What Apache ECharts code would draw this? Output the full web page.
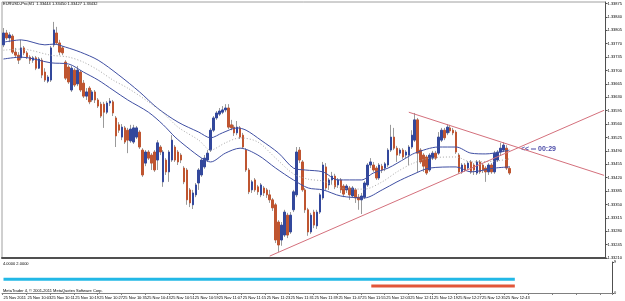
<!DOCTYPE html>
<html><head><meta charset="utf-8">
<script src="https://cdn.jsdelivr.net/npm/echarts@6/dist/echarts.min.js"></script>
<style>html,body{margin:0;padding:0;background:#fff;}#c{width:625px;height:301px;}</style>
</head><body><div id="c"></div>
<script>
const headerText = 'EURUSD-Pro,M1  1.33444 1.33450 1.33427 1.33432';
const copyrightText = 'MetaTrader 4, \u00a9 2001-2011 MetaQuotes Software Corp.';
const subTitle = '4.0000 2.0000';
const timerText = '<< \u2550 00:29';
const tickLabels = ['25 Nov 2011','25 Nov 10:03','25 Nov 10:11','25 Nov 10:19','25 Nov 10:27','25 Nov 10:35','25 Nov 10:43','25 Nov 10:51','25 Nov 10:59','25 Nov 11:07','25 Nov 11:15','25 Nov 11:23','25 Nov 11:31','25 Nov 11:39','25 Nov 11:47','25 Nov 11:55','25 Nov 12:03','25 Nov 12:11','25 Nov 12:19','25 Nov 12:27','25 Nov 12:35','25 Nov 12:43'];
const barsPerLabel = 8;
const totalSlots = 204;

const open = [1.33767,1.33798,1.33785,1.33790,1.33748,1.33740,1.33733,1.33759,1.33746,1.33735,
1.33727,1.33733,1.33706,1.33727,1.33696,1.33672,1.33675,1.33767,1.33798,1.33772,
1.33759,1.33722,1.33709,1.33649,1.33701,1.33665,1.33696,1.33667,1.33633,1.33654,
1.33623,1.33644,1.33623,1.33612,1.33612,1.33591,1.33615,1.33618,1.33576,1.33558,
1.33526,1.33550,1.33544,1.33516,1.33513,1.33526,1.33539,1.33492,1.33458,1.33487,
1.33479,1.33487,1.33466,1.33500,1.33409,1.33466,1.33435,1.33466,1.33500,1.33487,
1.33479,1.33445,1.33440,1.33388,1.33349,1.33375,1.33406,1.33427,1.33448,1.33466,
1.33492,1.33544,1.33576,1.33586,1.33591,1.33597,1.33602,1.33558,1.33552,1.33537,
1.33550,1.33531,1.33492,1.33440,1.33388,1.33414,1.33396,1.33375,1.33393,1.33388,
1.33375,1.33362,1.33349,1.33304,1.33257,1.33270,1.33322,1.33278,1.33336,1.33375,
1.33492,1.33461,1.33388,1.33336,1.33278,1.33330,1.33294,1.33330,1.33367,1.33448,
1.33401,1.33414,1.33424,1.33401,1.33414,1.33398,1.33388,1.33393,1.33372,1.33388,
1.33369,1.33362,1.33369,1.33401,1.33453,1.33453,1.33445,1.33419,1.33450,1.33445,
1.33453,1.33492,1.33526,1.33497,1.33484,1.33492,1.33479,1.33479,1.33500,1.33518,
1.33571,1.33492,1.33479,1.33474,1.33440,1.33471,1.33484,1.33484,1.33518,1.33544,
1.33537,1.33550,1.33544,1.33539,1.33479,1.33435,1.33453,1.33445,1.33461,1.33453,
1.33432,1.33461,1.33453,1.33445,1.33435,1.33453,1.33435,1.33466,1.33487,1.33492,
1.33497,1.33444];
const close = [1.33798,1.33785,1.33793,1.33748,1.33740,1.33727,1.33759,1.33746,1.33735,1.33727,
1.33733,1.33706,1.33730,1.33688,1.33675,1.33683,1.33759,1.33806,1.33772,1.33748,
1.33746,1.33680,1.33670,1.33706,1.33662,1.33701,1.33649,1.33633,1.33644,1.33618,
1.33644,1.33623,1.33607,1.33581,1.33591,1.33615,1.33620,1.33589,1.33529,1.33544,
1.33552,1.33513,1.33518,1.33547,1.33550,1.33550,1.33500,1.33427,1.33487,1.33471,
1.33458,1.33440,1.33511,1.33487,1.33487,1.33435,1.33487,1.33518,1.33466,1.33461,
1.33466,1.33409,1.33362,1.33354,1.33380,1.33401,1.33440,1.33466,1.33471,1.33484,
1.33544,1.33576,1.33589,1.33594,1.33597,1.33602,1.33552,1.33550,1.33537,1.33552,
1.33526,1.33500,1.33440,1.33383,1.33409,1.33388,1.33383,1.33401,1.33380,1.33375,
1.33362,1.33341,1.33257,1.33244,1.33296,1.33330,1.33270,1.33322,1.33383,1.33487,
1.33466,1.33388,1.33336,1.33278,1.33322,1.33296,1.33330,1.33375,1.33453,1.33393,
1.33414,1.33424,1.33396,1.33414,1.33388,1.33377,1.33398,1.33375,1.33393,1.33367,
1.33362,1.33372,1.33406,1.33453,1.33461,1.33440,1.33419,1.33453,1.33440,1.33456,
1.33492,1.33526,1.33497,1.33479,1.33492,1.33474,1.33487,1.33500,1.33531,1.33571,
1.33484,1.33461,1.33450,1.33432,1.33479,1.33484,1.33471,1.33526,1.33544,1.33524,
1.33552,1.33542,1.33537,1.33487,1.33435,1.33453,1.33440,1.33458,1.33435,1.33440,
1.33461,1.33435,1.33440,1.33435,1.33453,1.33435,1.33484,1.33487,1.33497,1.33505,
1.33445,1.33432];
const high = [1.33811,1.33806,1.33800,1.33795,1.33759,1.33748,1.33780,1.33764,1.33751,1.33740,
1.33738,1.33738,1.33735,1.33733,1.33706,1.33688,1.33764,1.33827,1.33814,1.33780,
1.33764,1.33727,1.33714,1.33712,1.33706,1.33712,1.33701,1.33675,1.33654,1.33659,
1.33649,1.33649,1.33628,1.33618,1.33618,1.33620,1.33628,1.33623,1.33581,1.33565,
1.33560,1.33555,1.33550,1.33558,1.33558,1.33555,1.33544,1.33497,1.33492,1.33492,
1.33484,1.33492,1.33518,1.33505,1.33492,1.33471,1.33492,1.33531,1.33505,1.33492,
1.33484,1.33450,1.33445,1.33393,1.33388,1.33406,1.33445,1.33471,1.33479,1.33492,
1.33550,1.33581,1.33594,1.33602,1.33607,1.33612,1.33612,1.33571,1.33558,1.33568,
1.33555,1.33537,1.33497,1.33445,1.33414,1.33419,1.33401,1.33406,1.33398,1.33393,
1.33388,1.33367,1.33354,1.33309,1.33304,1.33336,1.33328,1.33330,1.33388,1.33500,
1.33500,1.33466,1.33393,1.33341,1.33328,1.33336,1.33336,1.33380,1.33461,1.33458,
1.33419,1.33435,1.33430,1.33419,1.33419,1.33403,1.33403,1.33398,1.33398,1.33393,
1.33377,1.33380,1.33411,1.33458,1.33471,1.33461,1.33450,1.33458,1.33456,1.33461,
1.33497,1.33558,1.33550,1.33503,1.33497,1.33497,1.33492,1.33505,1.33544,1.33589,
1.33576,1.33497,1.33484,1.33479,1.33484,1.33490,1.33490,1.33539,1.33550,1.33550,
1.33560,1.33558,1.33550,1.33544,1.33484,1.33458,1.33458,1.33463,1.33466,1.33458,
1.33466,1.33466,1.33458,1.33450,1.33458,1.33458,1.33490,1.33492,1.33511,1.33513,
1.33505,1.33450];
const low = [1.33761,1.33780,1.33774,1.33743,1.33733,1.33717,1.33727,1.33740,1.33730,1.33717,
1.33720,1.33701,1.33704,1.33680,1.33670,1.33667,1.33670,1.33761,1.33767,1.33740,
1.33740,1.33675,1.33665,1.33644,1.33657,1.33659,1.33644,1.33628,1.33623,1.33612,
1.33618,1.33615,1.33602,1.33576,1.33550,1.33586,1.33607,1.33581,1.33500,1.33537,
1.33518,1.33508,1.33484,1.33511,1.33508,1.33521,1.33495,1.33422,1.33450,1.33466,
1.33440,1.33435,1.33440,1.33479,1.33396,1.33427,1.33409,1.33461,1.33461,1.33453,
1.33458,1.33403,1.33349,1.33343,1.33338,1.33369,1.33388,1.33422,1.33443,1.33461,
1.33487,1.33539,1.33571,1.33581,1.33586,1.33591,1.33547,1.33544,1.33529,1.33531,
1.33521,1.33495,1.33435,1.33377,1.33380,1.33383,1.33375,1.33369,1.33372,1.33367,
1.33354,1.33333,1.33249,1.33226,1.33242,1.33265,1.33262,1.33273,1.33330,1.33369,
1.33458,1.33383,1.33328,1.33268,1.33273,1.33288,1.33286,1.33325,1.33362,1.33388,
1.33388,1.33403,1.33390,1.33393,1.33380,1.33369,1.33380,1.33362,1.33367,1.33354,
1.33336,1.33325,1.33364,1.33396,1.33445,1.33435,1.33414,1.33414,1.33432,1.33437,
1.33448,1.33487,1.33492,1.33461,1.33477,1.33469,1.33471,1.33453,1.33495,1.33513,
1.33435,1.33456,1.33435,1.33427,1.33435,1.33466,1.33466,1.33479,1.33513,1.33518,
1.33531,1.33537,1.33531,1.33482,1.33430,1.33430,1.33435,1.33440,1.33430,1.33427,
1.33427,1.33430,1.33432,1.33409,1.33427,1.33430,1.33430,1.33461,1.33479,1.33487,
1.33440,1.33427];

const upperBand = [[0,1.33774],[6,1.33780],[14,1.33767],[17,1.33769],[21,1.33761],[26,1.33748],[32,1.33727],[39,1.33688],[46,1.33644],[52,1.33602],[59,1.33565],[66,1.33539],[70,1.33524],[74,1.33537],[79,1.33550],[82,1.33544],[87,1.33518],[93,1.33484],[98,1.33445],[102,1.33440],[108,1.33435],[113,1.33414],[121,1.33414],[125,1.33432],[130,1.33445],[136,1.33471],[139,1.33484],[147,1.33500],[153,1.33500],[158,1.33484],[163,1.33482],[168,1.33487],[171,1.33492]];
const middleLine = [[0,1.33753],[6,1.33756],[16,1.33740],[22,1.33735],[27,1.33722],[32,1.33701],[37,1.33675],[42,1.33654],[49,1.33618],[54,1.33589],[59,1.33552],[66,1.33518],[70,1.33492],[75,1.33511],[80,1.33524],[86,1.33513],[92,1.33471],[98,1.33430],[103,1.33416],[108,1.33411],[114,1.33393],[122,1.33390],[128,1.33409],[133,1.33435],[138,1.33456],[144,1.33471],[153,1.33474],[158,1.33461],[166,1.33463],[171,1.33469]];
const lowerBand = [[0,1.33730],[6,1.33735],[16,1.33720],[22,1.33717],[27,1.33696],[32,1.33675],[37,1.33649],[42,1.33623],[49,1.33591],[54,1.33558],[58,1.33526],[62,1.33500],[67,1.33471],[70,1.33461],[75,1.33484],[80,1.33497],[86,1.33479],[92,1.33445],[98,1.33414],[103,1.33393],[108,1.33388],[114,1.33372],[122,1.33367],[128,1.33388],[133,1.33409],[138,1.33427],[144,1.33445],[153,1.33448],[158,1.33435],[166,1.33445],[171,1.33448]];
const trendUp = [[90,1.33215],[203,1.33596]];
const trendDown = [[137,1.33591],[203,1.33426]];
const orderPrice = 1.33440;
const orderLabel = '#50223791 sell';
const subCyan = [[0,4],[171,4]];
const subRed = [[123,2],[171,2]];

const FONT = 'Liberation Sans';
const cats = [];
for (let i = 0; i < totalSlots; i++) cats.push(String(i));
const wickData = open.map((o, i) => [o, close[i], low[i], high[i]]);
const bodyData = open.map((o, i) => [o, close[i], Math.min(o, close[i]), Math.max(o, close[i])]);
const lastClose = close[close.length - 1];

const chart = echarts.init(document.getElementById('c'), null, {renderer: 'canvas'});
chart.setOption({
  animation: false,
  backgroundColor: '#ffffff',
  textStyle: {fontFamily: FONT},
  grid: [
    {left: 2, right: 13, top: 2, height: 256, show: true, borderColor: '#a0a0a0', borderWidth: 1},
    {left: 2, right: 13, top: 262, height: 31, show: false}
  ],
  xAxis: [
    {type: 'category', gridIndex: 0, data: cats, boundaryGap: true,
     axisLine: {show: true, lineStyle: {color: '#505050', width: 2}},
     axisTick: {show: false}, axisLabel: {show: false}, splitLine: {show: false}},
    {type: 'category', gridIndex: 1, data: cats, boundaryGap: true,
     axisLine: {show: true, lineStyle: {color: '#808080', width: 1}},
     axisTick: {show: true, interval: barsPerLabel - 1, length: 2, lineStyle: {color: '#808080'}},
     axisLabel: {show: true, interval: barsPerLabel - 1, fontSize: 4, color: '#000', align: 'left', margin: 3,
       formatter: (v, idx) => (idx % barsPerLabel === 0 && tickLabels[idx / barsPerLabel]) ? tickLabels[idx / barsPerLabel] : ''},
     splitLine: {show: false}}
  ],
  yAxis: [
    {type: 'value', gridIndex: 0, position: 'right', scale: true, min: 1.3321, max: 1.33879, interval: 0.00035,
     axisLine: {show: true, lineStyle: {color: '#505050'}},
     axisTick: {show: true, length: 2, lineStyle: {color: '#505050'}},
     axisLabel: {fontSize: 4, color: '#000', margin: 2, showMaxLabel: false, formatter: v => v.toFixed(5)},
     splitLine: {show: false}},
    {type: 'value', gridIndex: 1, position: 'right', min: 0, max: 9, interval: 9,
     axisLine: {show: true, lineStyle: {color: '#505050'}},
     axisTick: {show: true, length: 2, lineStyle: {color: '#505050'}},
     axisLabel: {fontSize: 4, color: '#000', margin: 2},
     splitLine: {show: false}}
  ],
  series: [
    {type: 'line', xAxisIndex: 0, yAxisIndex: 0, data: upperBand, symbol: 'none', smooth: 0.3,
     lineStyle: {color: '#3f4fa3', width: 1}},
    {type: 'line', xAxisIndex: 0, yAxisIndex: 0, data: middleLine, symbol: 'none', smooth: 0.3,
     lineStyle: {color: '#a8a8a8', width: 1, type: [1, 2]}},
    {type: 'line', xAxisIndex: 0, yAxisIndex: 0, data: lowerBand, symbol: 'none', smooth: 0.3,
     lineStyle: {color: '#3f4fa3', width: 1}},
    {type: 'candlestick', xAxisIndex: 0, yAxisIndex: 0, data: wickData, barWidth: 1,
     itemStyle: {color: '#9a9a9a', color0: '#9a9a9a', borderColor: '#9a9a9a', borderColor0: '#9a9a9a', borderWidth: 1},
     markLine: {silent: true, symbol: 'none', animation: false,
       data: [
         {yAxis: orderPrice, lineStyle: {color: '#78c878', width: 1, type: [4, 2, 1, 2]},
          label: {show: true, position: 'insideStartTop', formatter: orderLabel, fontSize: 4, color: '#000', distance: 1}},
         {yAxis: lastClose, lineStyle: {opacity: 0},
          label: {show: true, position: 'end', formatter: lastClose.toFixed(5), fontSize: 4, color: '#fff', backgroundColor: '#000', padding: [1, 1, 1, 1], distance: 1}}
       ]}},
    {type: 'candlestick', xAxisIndex: 0, yAxisIndex: 0, data: bodyData, barWidth: 2,
     itemStyle: {color: '#33489c', color0: '#bf5530', borderColor: '#33489c', borderColor0: '#bf5530', borderWidth: 1}},
    {type: 'line', xAxisIndex: 0, yAxisIndex: 0, data: trendUp, symbol: 'none',
     lineStyle: {color: '#d4707c', width: 1}},
    {type: 'line', xAxisIndex: 0, yAxisIndex: 0, data: trendDown, symbol: 'none',
     lineStyle: {color: '#d4707c', width: 1}},
    {type: 'line', xAxisIndex: 1, yAxisIndex: 1, data: subCyan, symbol: 'none',
     lineStyle: {color: '#22b8e6', width: 3}},
    {type: 'line', xAxisIndex: 1, yAxisIndex: 1, data: subRed, symbol: 'none',
     lineStyle: {color: '#e2563a', width: 3}}
  ],
  graphic: [
    {type: 'text', left: 3, top: 2, style: {text: headerText, fontSize: 4, fill: '#000', font: '4px ' + FONT}},
    {type: 'text', left: 3, top: 262, style: {text: subTitle, fontSize: 4, fill: '#000', font: '4px ' + FONT}},
    {type: 'text', left: 3, top: 289, style: {text: copyrightText, fontSize: 4, fill: '#000', font: '4px ' + FONT}},
    {type: 'text', left: 521, top: 146, style: {text: timerText, fill: '#4b4ba8', font: 'bold 7px ' + FONT}}
  ]
});
</script></body></html>
